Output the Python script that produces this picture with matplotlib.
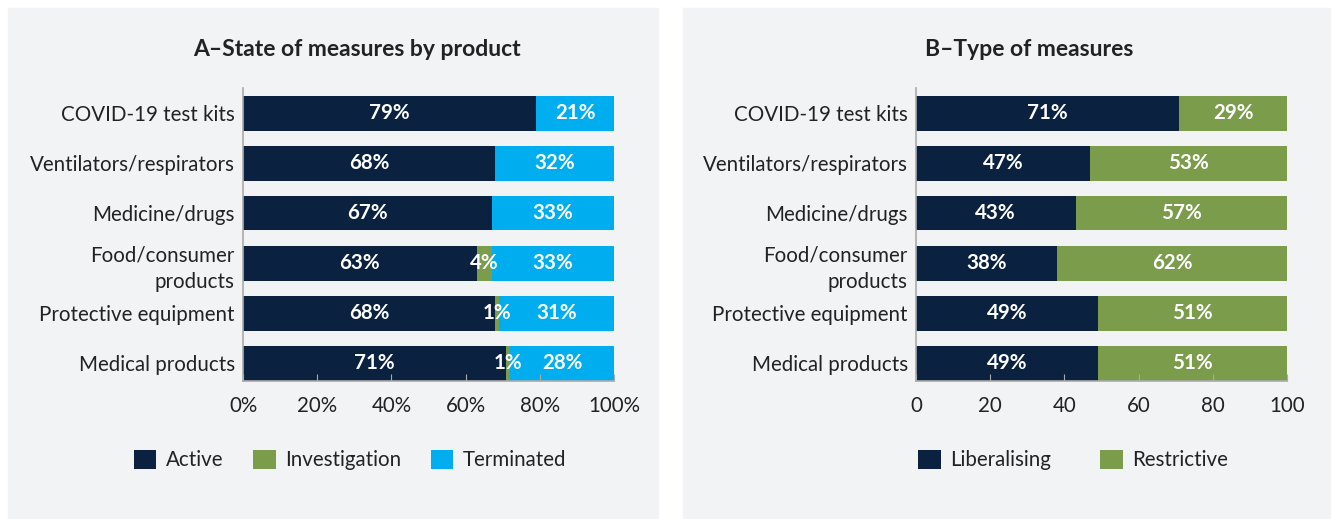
import matplotlib.pyplot as plt
from matplotlib.patches import Rectangle
import numpy as np

plt.rcParams['font.family'] = ['Lato', 'DejaVu Sans']

products = ["COVID-19 test kits", "Ventilators/respirators", "Medicine/drugs",
            "Food/consumer\nproducts", "Protective equipment", "Medical products"]

# Panel A - state of measures (%)
active = [79, 68, 67, 63, 68, 71]
investigation = [0, 0, 0, 4, 1, 1]
terminated = [21, 32, 33, 33, 31, 28]

# Panel B - type of measures (%)
liberalising = [71, 47, 43, 38, 49, 49]
restrictive = [29, 53, 57, 62, 51, 51]

NAVY = "#0a2240"
GREEN = "#7a9c4b"
CYAN = "#00aeef"
PANEL_BG = "#f2f3f5"
TEXT = "#222222"
FS = 14.8

W, H = 1335, 519
fig = plt.figure(figsize=(W / 100, H / 100), dpi=100)
fig.patch.set_facecolor("white")

# panel backgrounds (pixel coords -> figure fraction)
for x0, x1 in [(8, 658), (683, 1330)]:
    fig.patches.append(Rectangle((x0 / W, 0), (x1 - x0) / W, 1 - 8 / H,
                                 transform=fig.transFigure, color=PANEL_BG, zorder=-10))


def add_axes(x0, x1, y0, y1):
    return fig.add_axes([x0 / W, 1 - y1 / H, (x1 - x0) / W, (y1 - y0) / H])


def style(ax, ticklabels):
    ax.set_facecolor("none")
    ax.set_xlim(0, 100)
    ax.set_ylim(5.36, -0.5)
    ax.set_yticks(range(len(products)))
    ax.set_yticklabels(products, fontsize=FS, color=TEXT, linespacing=1.45)
    ax.tick_params(axis="y", length=0, pad=6)
    ax.set_xticks(np.arange(0, 101, 20))
    ax.set_xticklabels(ticklabels, fontsize=FS, color=TEXT)
    ax.tick_params(axis="x", direction="in", length=5, color="#aaaaaa", pad=11)
    for s in ["top", "right"]:
        ax.spines[s].set_visible(False)
    for s in ["left", "bottom"]:
        ax.spines[s].set_color("#aaaaaa")
        ax.spines[s].set_linewidth(1.2)


def label_segments(ax, lefts, widths, fmt="{}%"):
    for i, (l, w) in enumerate(zip(lefts, widths)):
        if w > 0:
            ax.text(l + w / 2, i, fmt.format(w), ha="center", va="center",
                    color="white", fontsize=FS, fontweight="bold")


y = np.arange(len(products))

# ---------------- Panel A ----------------
axA = add_axes(243, 614, 88, 381)
left = np.zeros(len(products))
for vals, col, name in [(active, NAVY, "Active"), (investigation, GREEN, "Investigation"),
                        (terminated, CYAN, "Terminated")]:
    axA.barh(y, vals, left=left, height=0.7, color=col, label=name)
    label_segments(axA, left, vals)
    left = left + np.array(vals)
style(axA, ["0%", "20%", "40%", "60%", "80%", "100%"])
fig.text(357 / W, 1 - 50 / H, "A\u2013State of measures by product", ha="center", va="center",
         fontsize=16.5, fontweight="bold", color=TEXT)
axA.legend(loc="center", bbox_to_anchor=(350 / W, 1 - 460 / H), bbox_transform=fig.transFigure,
           ncol=3, frameon=False, fontsize=FS, handlelength=1.1, handleheight=1.1,
           handletextpad=0.45, columnspacing=1.45, labelcolor=TEXT)

# ---------------- Panel B ----------------
axB = add_axes(916, 1287, 88, 381)
left = np.zeros(len(products))
for vals, col, name in [(liberalising, NAVY, "Liberalising"), (restrictive, GREEN, "Restrictive")]:
    axB.barh(y, vals, left=left, height=0.7, color=col, label=name)
    label_segments(axB, left, vals)
    left = left + np.array(vals)
style(axB, ["0", "20", "40", "60", "80", "100"])
fig.text(1029 / W, 1 - 50 / H, "B\u2013Type of measures", ha="center", va="center",
         fontsize=16.5, fontweight="bold", color=TEXT)
axB.legend(loc="center", bbox_to_anchor=(1073 / W, 1 - 460 / H), bbox_transform=fig.transFigure,
           ncol=2, frameon=False, fontsize=FS, handlelength=1.1, handleheight=1.1,
           handletextpad=0.45, columnspacing=2.4, labelcolor=TEXT)

fig.savefig("out.png", dpi=100)
